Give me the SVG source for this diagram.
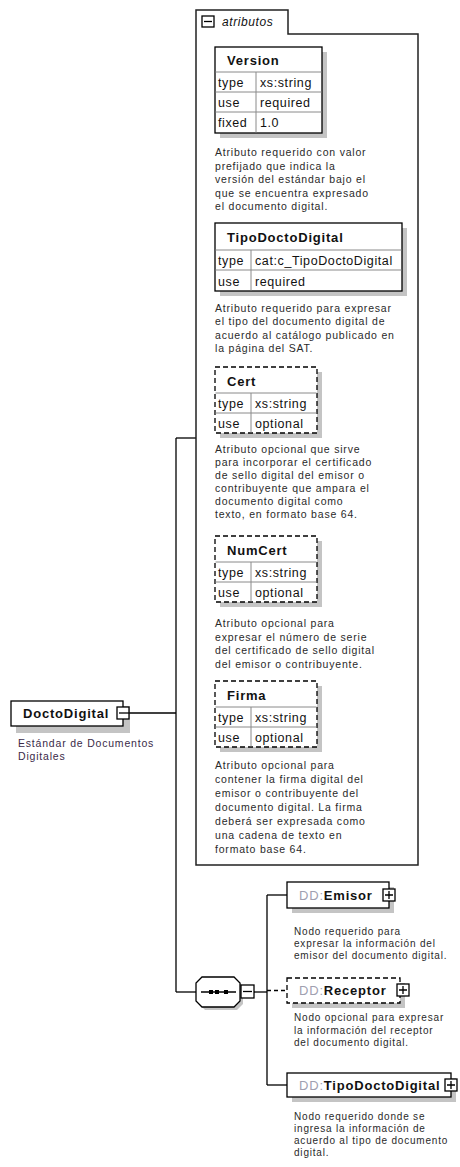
<svg xmlns="http://www.w3.org/2000/svg" width="460" height="1167" viewBox="0 0 460 1167">
<style>
.bg{fill:#fff}
.box{fill:#fff;stroke:#000;stroke-width:1.3}
.dash{stroke-dasharray:5,3}
.shadow{fill:#c4c4c4}
.cell{stroke:#8a8a8a;stroke-width:1;fill:none}
.ln{stroke:#000;stroke-width:1.3;fill:none}
.lnd{stroke:#000;stroke-width:1.3;fill:none;stroke-dasharray:4,3}
text{font-family:"Liberation Sans",Arial,sans-serif}
.hdr{font-weight:bold;font-size:13px;letter-spacing:0.8px;fill:#111}
.ct{font-size:12.5px;letter-spacing:0.6px;fill:#111}
.desc{font-size:10.5px;letter-spacing:0.8px;fill:#2a2a2a}
.cdesc{font-size:10px;letter-spacing:0.8px;fill:#2a2a2a}
.pre{fill:#a0a0b0;font-weight:normal}
.icon{fill:#fff;stroke:#000;stroke-width:1.3}
</style>
<rect class="bg" x="0" y="0" width="460" height="1167"/>

<g id="connectors">
<path class="ln" d="M130,713 H176"/>
<path class="ln" d="M176,438 V992"/>
<path class="ln" d="M176,438 H196"/>
<path class="ln" d="M176,992 H196"/>
<path class="ln" d="M254,992 H267"/>
<path class="ln" d="M267,895 V1085"/>
<path class="ln" d="M267,895 H287"/>
<path class="ln" d="M267,1085 H287"/>
<path class="lnd" d="M267,990.5 H287"/>
</g>

<g id="atributos">
<path d="M196,10 H288 V34 H418 V865 H196 Z" fill="#fff" stroke="#222" stroke-width="1.5"/>
<rect class="icon" x="202" y="16" width="12" height="11" stroke-width="1.6"/>
<path class="ln" d="M204,21.5 H212" stroke-width="1.6"/>
<text x="222" y="26" style="font-style:italic;font-size:12px;letter-spacing:0.6px;fill:#111">atributos</text>
</g>

<g id="Version">
<rect class="shadow" x="220" y="52" width="107" height="86"/>
<rect class="box" x="215" y="47" width="107" height="86"/>
<path class="cell" d="M215.5,72 H321.5 M215.5,92 H321.5 M215.5,112 H321.5 M256,72 V132.5"/>
<text class="hdr" x="227" y="65">Version</text>
<text class="ct" x="218" y="87">type</text><text class="ct" x="260" y="87">xs:string</text>
<text class="ct" x="218" y="107">use</text><text class="ct" x="260" y="107">required</text>
<text class="ct" x="218" y="127">fixed</text><text class="ct" x="260" y="127">1.0</text>
<text class="desc" x="215" y="156">Atributo requerido con valor</text>
<text class="desc" x="215" y="169.5">prefijado que indica la</text>
<text class="desc" x="215" y="183">versión del estándar bajo el</text>
<text class="desc" x="215" y="196.5">que se encuentra expresado</text>
<text class="desc" x="215" y="210">el documento digital.</text>
</g>

<g id="TipoDoctoDigital">
<rect class="shadow" x="220" y="228" width="187" height="68"/>
<rect class="box" x="215" y="223" width="187" height="68"/>
<path class="cell" d="M215.5,250 H401.5 M215.5,270 H401.5 M251,250 V290.5"/>
<text class="hdr" x="227" y="242">TipoDoctoDigital</text>
<text class="ct" x="218" y="265">type</text><text class="ct" x="255" y="265">cat:c_TipoDoctoDigital</text>
<text class="ct" x="218" y="286">use</text><text class="ct" x="255" y="286">required</text>
<text class="desc" x="215" y="312">Atributo requerido para expresar</text>
<text class="desc" x="215" y="325">el tipo del documento digital de</text>
<text class="desc" x="215" y="338.5">acuerdo al catálogo publicado en</text>
<text class="desc" x="215" y="352">la página del SAT.</text>
</g>

<g id="Cert">
<rect class="shadow" x="220" y="372" width="102" height="66"/>
<rect class="box dash" x="215" y="367" width="102" height="66"/>
<path class="cell" d="M215.5,393 H316.5 M215.5,413 H316.5 M251,393 V432.5"/>
<text class="hdr" x="227" y="386">Cert</text>
<text class="ct" x="218" y="408">type</text><text class="ct" x="255" y="408">xs:string</text>
<text class="ct" x="218" y="428">use</text><text class="ct" x="255" y="428">optional</text>
<text class="desc" x="215" y="453">Atributo opcional que sirve</text>
<text class="desc" x="215" y="466">para incorporar el certificado</text>
<text class="desc" x="215" y="479">de sello digital del emisor o</text>
<text class="desc" x="215" y="492">contribuyente que ampara el</text>
<text class="desc" x="215" y="505">documento digital como</text>
<text class="desc" x="215" y="518">texto, en formato base 64.</text>
</g>

<g id="NumCert">
<rect class="shadow" x="220" y="541" width="102" height="66"/>
<rect class="box dash" x="215" y="536" width="102" height="66"/>
<path class="cell" d="M215.5,562 H316.5 M215.5,582 H316.5 M251,562 V601.5"/>
<text class="hdr" x="227" y="555">NumCert</text>
<text class="ct" x="218" y="577">type</text><text class="ct" x="255" y="577">xs:string</text>
<text class="ct" x="218" y="597">use</text><text class="ct" x="255" y="597">optional</text>
<text class="desc" x="215" y="627">Atributo opcional para</text>
<text class="desc" x="215" y="640.5">expresar el número de serie</text>
<text class="desc" x="215" y="654">del certificado de sello digital</text>
<text class="desc" x="215" y="667.5">del emisor o contribuyente.</text>
</g>

<g id="Firma">
<rect class="shadow" x="220" y="686" width="102" height="66"/>
<rect class="box dash" x="215" y="681" width="102" height="66"/>
<path class="cell" d="M215.5,707 H316.5 M215.5,727 H316.5 M251,707 V746.5"/>
<text class="hdr" x="227" y="700">Firma</text>
<text class="ct" x="218" y="722">type</text><text class="ct" x="255" y="722">xs:string</text>
<text class="ct" x="218" y="742">use</text><text class="ct" x="255" y="742">optional</text>
<text class="desc" x="215" y="769">Atributo opcional para</text>
<text class="desc" x="215" y="783">contener la firma digital del</text>
<text class="desc" x="215" y="797">emisor o contribuyente del</text>
<text class="desc" x="215" y="811">documento digital. La firma</text>
<text class="desc" x="215" y="825">deberá ser expresada como</text>
<text class="desc" x="215" y="839">una cadena de texto en</text>
<text class="desc" x="215" y="853">formato base 64.</text>
</g>

<g id="DoctoDigital">
<rect class="shadow" x="16" y="706" width="114" height="27"/>
<rect class="box" x="11" y="701" width="112" height="25"/>
<text class="hdr" x="23" y="718">DoctoDigital</text>
<rect class="icon" x="117" y="707" width="12" height="12"/>
<path class="ln" d="M119,713 H130"/>
<text class="desc" x="18" y="747" style="fill:#3a2a48">Estándar de Documentos</text>
<text class="desc" x="18" y="760" style="fill:#3a2a48">Digitales</text>
</g>

<g id="sequence">
<polygon class="shadow" points="205,980 237,980 243,986 243,1004 237,1010 205,1010 199,1004 199,986"/>
<polygon class="box" points="202,977 234,977 240,983 240,1001 234,1007 202,1007 196,1001 196,983"/>
<path class="ln" d="M201,992 H236"/>
<rect x="209" y="990" width="4" height="4" fill="#000"/>
<rect x="215" y="990" width="4" height="4" fill="#000"/>
<rect x="224" y="990" width="4" height="4" fill="#000"/>
<rect class="icon" x="241" y="985" width="13" height="13"/>
<path class="ln" d="M243,991.5 H252"/>
</g>

<g id="Emisor">
<rect class="shadow" x="292" y="887" width="102" height="26"/>
<rect class="box" x="287" y="882" width="102" height="26"/>
<text class="hdr" x="299" y="900"><tspan class="pre">DD:</tspan>Emisor</text>
<rect class="icon" x="383" y="889" width="12" height="12"/>
<path class="ln" d="M385,895 H393 M389,891 V899"/>
<text class="cdesc" x="294" y="935">Nodo requerido para</text>
<text class="cdesc" x="294" y="947">expresar la información del</text>
<text class="cdesc" x="294" y="959">emisor del documento digital.</text>
</g>

<g id="Receptor">
<rect class="shadow" x="292" y="983" width="113" height="25"/>
<rect class="box dash" x="287" y="978" width="113" height="25"/>
<text class="hdr" x="299" y="995"><tspan class="pre">DD:</tspan>Receptor</text>
<rect class="icon" x="397" y="984" width="12" height="12"/>
<path class="ln" d="M399,990 H407 M403,986 V994"/>
<text class="cdesc" x="294" y="1021">Nodo opcional para expresar</text>
<text class="cdesc" x="294" y="1033.5">la información del receptor</text>
<text class="cdesc" x="294" y="1046">del documento digital.</text>
</g>

<g id="TipoDoctoDigitalNodo">
<rect class="shadow" x="292" y="1078" width="164" height="24"/>
<rect class="box" x="287" y="1073" width="164" height="24"/>
<text class="hdr" x="299" y="1090"><tspan class="pre">DD:</tspan>TipoDoctoDigital</text>
<rect class="icon" x="445" y="1079" width="12" height="12"/>
<path class="ln" d="M447,1085 H455 M451,1081 V1089"/>
<text class="cdesc" x="294" y="1119.5">Nodo requerido donde se</text>
<text class="cdesc" x="294" y="1131.5">ingresa  la información de</text>
<text class="cdesc" x="294" y="1143.5">acuerdo al tipo de documento</text>
<text class="cdesc" x="294" y="1155.5">digital.</text>
</g>
</svg>
